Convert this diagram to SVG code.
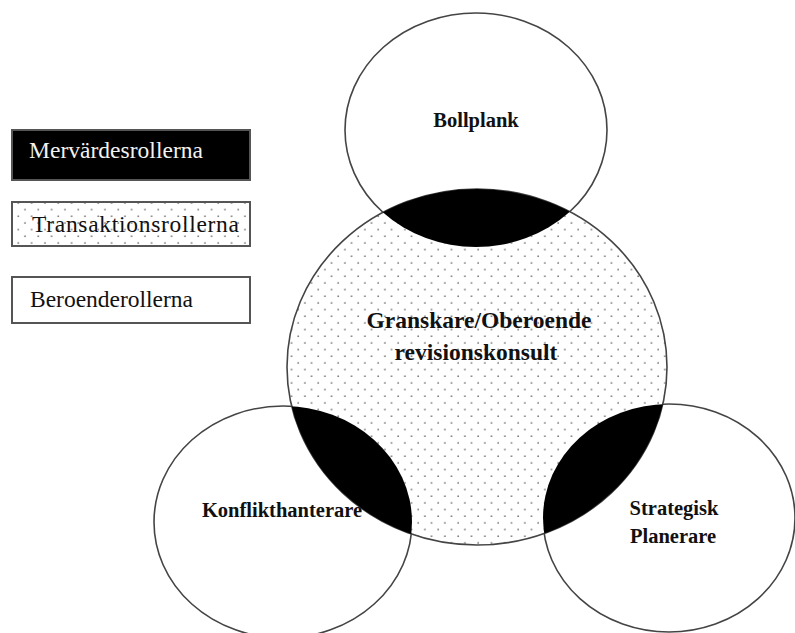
<svg xmlns="http://www.w3.org/2000/svg" width="795" height="633" viewBox="0 0 795 633">
  <defs>
    <!-- staggered dot fill used for the transaction roles -->
    <pattern id="dots" patternUnits="userSpaceOnUse" x="2" y="0" width="13.33" height="13.33">
      <rect width="13.33" height="13.33" fill="#fff"/>
      <circle cx="3" cy="3" r="0.9" fill="#777"/>
      <circle cx="9.67" cy="9.67" r="0.9" fill="#777"/>
    </pattern>
    <clipPath id="clip-center">
      <ellipse cx="477" cy="367" rx="190" ry="178"/>
    </clipPath>
    <style>
      .ring { stroke: #444; stroke-width: 1.6; }
      .outer { fill: #fff; }
      .lens { fill: #000; }
      .key { stroke: #555; stroke-width: 2; }
      .key-text { font-family: "Liberation Serif", "Times New Roman", serif; font-size: 23.5px; }
      .label { font-family: "Liberation Serif", "Times New Roman", serif; font-size: 20.5px; font-weight: bold; fill: #111; text-anchor: middle; }
      .label-main { font-size: 23.5px; }
    </style>
  </defs>

  <rect width="795" height="633" fill="#fff"/>

  <!-- legend -->
  <g id="legend-mervarde">
    <rect class="key" x="12" y="130" width="238" height="50" fill="#000"/>
    <text class="key-text" x="29" y="158" fill="#f2f2f2" textLength="174">Mervärdesrollerna</text>
  </g>
  <g id="legend-transaktion">
    <rect class="key" x="12" y="202" width="238" height="44" fill="url(#dots)"/>
    <text class="key-text" x="32" y="232" fill="#111" textLength="207">Transaktionsrollerna</text>
  </g>
  <g id="legend-beroende">
    <rect class="key" x="12" y="277" width="238" height="46" fill="#fff"/>
    <text class="key-text" x="30" y="307" fill="#111" textLength="163">Beroenderollerna</text>
  </g>

  <!-- outer role circles -->
  <g id="bollplank">
    <ellipse class="ring outer" cx="476" cy="130" rx="131" ry="117"/>
    <text class="label" x="476" y="127">Bollplank</text>
  </g>
  <g id="konflikthanterare">
    <ellipse class="ring outer" cx="283" cy="522" rx="129" ry="116"/>
  </g>
  <g id="strategisk-planerare">
    <ellipse class="ring outer" cx="669" cy="518" rx="126" ry="114"/>
  </g>

  <!-- central role -->
  <g id="granskare">
    <ellipse class="ring" cx="477" cy="367" rx="190" ry="178" fill="url(#dots)"/>
    <text class="label label-main" x="479" y="328">Granskare/Oberoende</text>
    <text class="label label-main" x="476" y="360">revisionskonsult</text>
  </g>

  <!-- overlaps: added-value roles -->
  <g id="overlaps" clip-path="url(#clip-center)">
    <ellipse class="lens" cx="476" cy="130" rx="131" ry="117"/>
    <ellipse class="lens" cx="283" cy="522" rx="129" ry="116"/>
    <ellipse class="lens" cx="669" cy="518" rx="126" ry="114"/>
  </g>

  <!-- labels for side circles drawn above the overlaps -->
  <text class="label" x="282" y="517">Konflikthanterare</text>
  <text class="label" x="674" y="515">Strategisk</text>
  <text class="label" x="673" y="543">Planerare</text>
</svg>
